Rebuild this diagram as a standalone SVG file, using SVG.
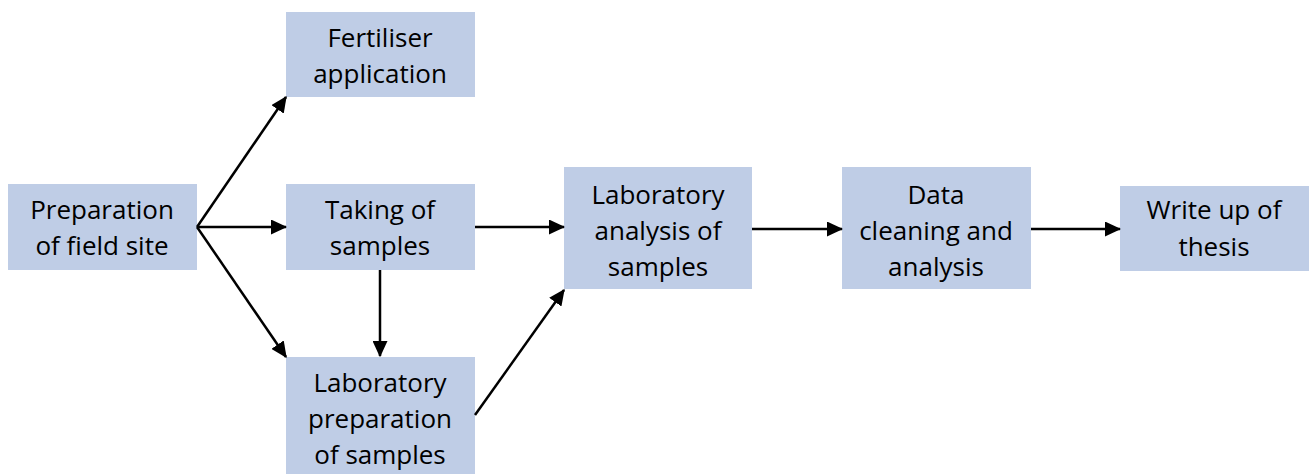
<svg xmlns="http://www.w3.org/2000/svg" width="1309" height="474" viewBox="0 0 1309 474">
<style>
.box{fill:#bfcde6;}
.t{font-family:"Open Sans","Liberation Sans",sans-serif;font-size:26px;fill:#000;text-anchor:middle;}
.c{stroke:#000;stroke-width:2.5;fill:none;marker-end:url(#ah);}
</style>
<defs>
<marker id="ah" markerWidth="6.5" markerHeight="6" refX="6" refY="3" orient="auto" markerUnits="strokeWidth">
<path d="M0,0 L6.5,3 L0,6 Z" fill="#000"/>
</marker>
</defs>
<rect width="1309" height="474" fill="#fff"/>
<g id="prep-field">
<rect class="box" x="8" y="184" width="189" height="86"/>
<text class="t" x="102" y="219">Preparation</text>
<text class="t" x="102" y="255">of field site</text>
</g>
<g id="fertiliser">
<rect class="box" x="286" y="12" width="189" height="85"/>
<text class="t" x="380" y="47">Fertiliser</text>
<text class="t" x="380" y="83">application</text>
</g>
<g id="taking">
<rect class="box" x="286" y="184" width="189" height="86"/>
<text class="t" x="380" y="219">Taking of</text>
<text class="t" x="380" y="255">samples</text>
</g>
<g id="lab-prep">
<rect class="box" x="286" y="357" width="189" height="117"/>
<text class="t" x="380" y="392">Laboratory</text>
<text class="t" x="380" y="428">preparation</text>
<text class="t" x="380" y="464">of samples</text>
</g>
<g id="lab-analysis">
<rect class="box" x="564" y="167" width="188" height="122"/>
<text class="t" x="658" y="204">Laboratory</text>
<text class="t" x="658" y="240">analysis of</text>
<text class="t" x="658" y="276">samples</text>
</g>
<g id="data">
<rect class="box" x="842" y="167" width="189" height="122"/>
<text class="t" x="936" y="204">Data</text>
<text class="t" x="936" y="240">cleaning and</text>
<text class="t" x="936" y="276">analysis</text>
</g>
<g id="writeup">
<rect class="box" x="1120" y="186" width="189" height="85"/>
<text class="t" x="1214" y="219">Write up of</text>
<text class="t" x="1214" y="256">thesis</text>
</g>
<g id="connectors">
<line class="c" x1="197" y1="227" x2="286" y2="97"/>
<line class="c" x1="197" y1="227" x2="286" y2="227"/>
<line class="c" x1="197" y1="227" x2="286" y2="357"/>
<line class="c" x1="380" y1="270" x2="380" y2="356"/>
<line class="c" x1="475" y1="227" x2="564" y2="227"/>
<line class="c" x1="475" y1="415" x2="564" y2="290"/>
<line class="c" x1="752" y1="229" x2="842" y2="229"/>
<line class="c" x1="1031" y1="229" x2="1120" y2="229"/>
</g>
</svg>
